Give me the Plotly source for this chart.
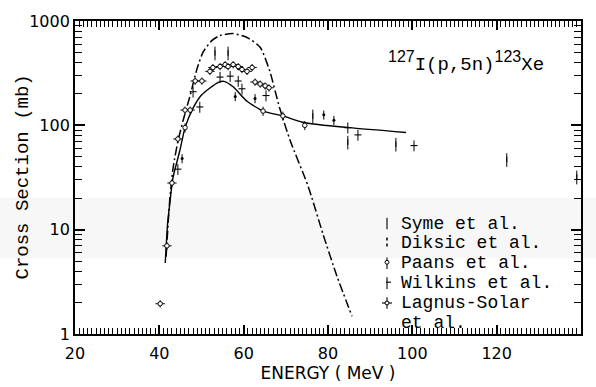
import plotly.graph_objects as go

# ---- 127I(p,5n)123Xe excitation function: measured cross sections (mb) vs proton energy (MeV)
syme_energy = [53.2, 56.3, 76.4, 84.7, 96.1, 122.4, 139.0]
syme_xs = [494, 494, 123, 69, 66, 47, 32]

diksic_energy = [45.4, 58.0, 62.7, 79.0, 81.4]
diksic_xs = [48, 189, 181, 126, 112]

paans_energy = [46.1, 64.6, 69.3, 74.5]
paans_xs = [95, 137, 123, 100]

wilkins_energy = [44.4, 48.0, 49.6, 54.4, 56.8, 58.7, 59.6, 65.3, 84.7, 87.1, 100.4]
wilkins_xs = [38, 210, 150, 290, 296, 266, 224, 193, 95, 81, 64]

lagnus_energy = [40.2, 41.8, 43.0, 44.4, 46.1, 47.3, 48.5, 50.1, 52.0, 52.7, 54.4,
                 55.6, 56.3, 57.5, 58.7, 59.6, 60.8, 62.0, 62.7, 63.9, 65.1, 66.0]
lagnus_xs = [1.95, 7.0, 28, 74, 140, 140, 266, 266, 329, 358, 366,
             382, 366, 382, 366, 343, 329, 358, 260, 249, 239, 229]

# ---- calculated excitation functions
calc_solid_energy = [41.4, 42.0, 42.5, 43.2, 44.9, 46.1, 48.0, 50.0, 52.0, 54.0, 55.3,
                     57.5, 60.8, 64.6, 69.3, 74.5, 85.0, 98.5]
calc_solid_xs = [4.8, 12, 18, 31, 58, 95, 146, 195, 228, 258, 264,
                 234, 170, 137, 123, 106, 95, 85.5]

calc_dashdot_energy = [41.6, 42.5, 43.3, 44.4, 45.6, 47.3, 48.9, 50.4, 52.5, 54.4, 57.5,
                       60.8, 63.9, 66.2, 68.5, 71.0, 75.3, 78.8, 82.1, 85.7]
calc_dashdot_xs = [5.5, 20, 40, 70, 110, 193, 344, 505, 652, 726, 757,
                   695, 561, 330, 148, 72, 26, 9.1, 3.6, 1.48]

# ---- axis ticks
x_tickvals = [20, 40, 60, 80, 100, 120, 140]

series_names = ["Syme et al.", "Diksic et al.", "Paans et al.", "Wilkins et al.",
                "Lagnus-Solar<br>et al."]

INK = "black"
fig = go.Figure()

# calculated curves
fig.add_trace(go.Scatter(
    x=calc_dashdot_energy, y=calc_dashdot_xs, mode="lines",
    line=dict(color=INK, width=1.5, dash="9px,3px,2px,3px", shape="spline", smoothing=0.6),
    hoverinfo="skip"))
fig.add_trace(go.Scatter(
    x=calc_solid_energy, y=calc_solid_xs, mode="lines",
    line=dict(color=INK, width=1.4, shape="spline", smoothing=0.6),
    hoverinfo="skip"))

def err(pct):
    return dict(type="percent", value=pct, color=INK, thickness=1.0, width=0)

# Syme: plain vertical bars
fig.add_trace(go.Scatter(
    x=syme_energy, y=syme_xs, mode="markers", name=series_names[0],
    marker=dict(symbol="line-ns-open", size=4, color=INK, line=dict(width=1.0, color=INK)),
    error_y=err(15)))
# Diksic: dots on bars
fig.add_trace(go.Scatter(
    x=diksic_energy, y=diksic_xs, mode="markers", name=series_names[1],
    marker=dict(symbol="circle", size=3, color=INK),
    error_y=err(10)))
# Paans: small hollow circles on bars
fig.add_trace(go.Scatter(
    x=paans_energy, y=paans_xs, mode="markers", name=series_names[2],
    marker=dict(symbol="circle", size=4.5, color="white", line=dict(width=1.0, color=INK)),
    error_y=err(10)))
# Wilkins: bars with a short horizontal tick
fig.add_trace(go.Scatter(
    x=wilkins_energy, y=wilkins_xs, mode="markers", name=series_names[3],
    marker=dict(symbol="line-ew-open", size=5, color=INK, line=dict(width=1.1, color=INK)),
    error_y=err(12)))
# Lagnus-Solar: hollow circles with energy and cross-section bars
fig.add_trace(go.Scatter(
    x=lagnus_energy, y=lagnus_xs, mode="markers", name=series_names[4],
    marker=dict(symbol="circle", size=4.5, color="white", line=dict(width=1.0, color=INK)),
    error_y=err(8),
    error_x=dict(type="constant", value=1.1, color=INK, thickness=1.0, width=0)))

# ---- geometry of the plotting box (pixels) for placing text
W, H = 596, 387
L, R, T, B = 75, 15, 20, 44
pw, ph = W - L - R, H - T - B

def px_x(px):
    return (px - L) / pw

def px_y(py):
    return (H - B - py) / ph

shapes = []
annotations = []

# faint scan band across the sheet
shapes.append(dict(type="rect", xref="paper", yref="paper", layer="below",
                   x0=px_x(0), x1=px_x(W), y0=px_y(265), y1=px_y(203),
                   fillcolor="#f7f7f7", line=dict(width=0)))

# legend: symbol column + names
sym_x = 387
row_y = [229, 249.5, 270, 290.5, 311]
line_step = 20.5
LEG_FONT = dict(family="Liberation Mono", size=18, color=INK)

def vline(x, yc, half, dash="solid", width=1.1):
    return dict(type="line", xref="paper", yref="paper",
                x0=px_x(x), x1=px_x(x), y0=px_y(yc - half), y1=px_y(yc + half),
                line=dict(color=INK, width=width, dash=dash))

def hline(xc, y, half, width=1.1):
    return dict(type="line", xref="paper", yref="paper",
                x0=px_x(xc - half), x1=px_x(xc + half), y0=px_y(y), y1=px_y(y),
                line=dict(color=INK, width=width))

def ring(xc, yc, r):
    return dict(type="circle", xref="paper", yref="paper",
                x0=px_x(xc - r), x1=px_x(xc + r), y0=px_y(yc + r), y1=px_y(yc - r),
                line=dict(color=INK, width=1), fillcolor="white")

shapes.append(vline(sym_x, row_y[0], 6))
shapes.append(vline(sym_x, row_y[1], 6, dash="dot", width=1.5))
shapes.append(vline(sym_x, row_y[2], 6))
shapes.append(ring(sym_x, row_y[2] - 1, 2.0))
shapes.append(vline(sym_x, row_y[3], 6))
shapes.append(hline(sym_x + 1.5, row_y[3] - 1, 2.5))
shapes.append(vline(sym_x, row_y[4], 6))
shapes.append(hline(sym_x, row_y[4], 5))
shapes.append(ring(sym_x, row_y[4], 2.0))

for name, yc in zip(series_names, row_y):
    for k, part in enumerate(name.split("<br>")):
        annotations.append(dict(
            text=part, xref="paper", yref="paper", x=px_x(400), y=px_y(yc + k * line_step),
            xanchor="left", yanchor="middle", showarrow=False, font=LEG_FONT, borderpad=0))

# reaction label: mass numbers in a sans face, symbols in the typewriter face
SUP = '<sup><span style="font-family:Liberation Sans;font-size:16px">{}</span></sup>'
annotations.append(dict(
    text=SUP.format("127") + "I(p,5n)" + SUP.format("123") + "Xe",
    xref="paper", yref="paper",
    x=px_x(386), y=px_y(62), xanchor="left", yanchor="middle", showarrow=False,
    font=dict(family="Liberation Mono", size=19, color=INK)))

# vertical axis title
annotations.append(dict(
    text="Cross Section (mb)", xref="paper", yref="paper",
    x=px_x(22), y=0.5, xanchor="center", yanchor="middle", textangle=-90,
    showarrow=False, font=dict(family="Liberation Mono", size=19, color=INK)))

fig.update_layout(
    width=W, height=H,
    margin=dict(l=L, r=R, t=T, b=B),
    paper_bgcolor="white", plot_bgcolor="rgba(0,0,0,0)",
    showlegend=False,
    font=dict(family="DejaVu Sans", color=INK),
    shapes=shapes, annotations=annotations,
)

fig.update_xaxes(
    range=[20, 140], tickvals=x_tickvals,
    ticks="inside", ticklen=9, tickwidth=1.5, tickcolor=INK,
    minor=dict(ticks="inside", dtick=1, ticklen=6, tickwidth=1.2, tickcolor=INK),
    showline=True, linecolor=INK, linewidth=1.5, mirror="ticks",
    showgrid=False, zeroline=False, ticklabelstandoff=4,
    tickfont=dict(family="DejaVu Sans", size=16, color=INK),
    title=dict(text="ENERGY ( MeV )", font=dict(family="DejaVu Sans", size=17, color=INK), standoff=0),
)

fig.update_yaxes(
    type="log", range=[0, 3], dtick=1, exponentformat="none",
    ticks="inside", ticklen=10, tickwidth=1.5, tickcolor=INK,
    minor=dict(ticks="inside", dtick="D1", ticklen=7, tickwidth=1.2, tickcolor=INK),
    showline=True, linecolor=INK, linewidth=1.8, mirror="ticks",
    showgrid=False, zeroline=False,
    tickfont=dict(family="DejaVu Sans", size=16, color=INK),
)

fig.write_html("out.html")
